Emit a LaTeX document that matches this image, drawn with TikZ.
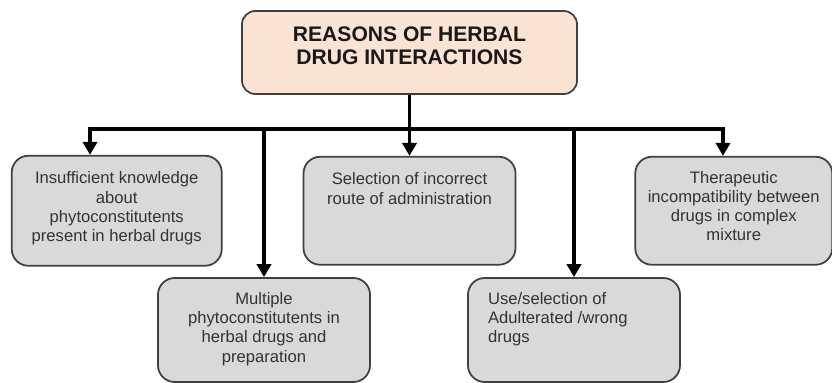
\documentclass[tikz,border=0pt]{standalone}
\usepackage{fontspec}
\setmainfont{Liberation Sans}
\usepackage{xcolor}
\usepackage{tikz}
\usetikzlibrary{positioning,arrows.meta}
\definecolor{boxgrey}{HTML}{D9D9D9}
\definecolor{boxpeach}{HTML}{FBE3D4}
\definecolor{edgegrey}{HTML}{404040}
\definecolor{textgrey}{HTML}{333333}
\tikzstyle{reason}=[rectangle, draw=edgegrey, line width=1.5pt, rounded corners=0.5cm, fill=boxgrey,
        text=textgrey, inner xsep=0.2cm, inner ysep=0pt, font=\fontsize{14.2}{16.4}\selectfont]
\tikzstyle{title}=[reason, fill=boxpeach, rounded corners=0.4cm, text=black!90,
        font=\bfseries\fontsize{18}{19.2}\selectfont]
\tikzstyle{myarrow}=[-{Triangle[width=12pt,length=11pt]}, line width=3.2pt]
\newcommand{\boxtext}[4][0.48cm]{\parbox[c][#2][t]{#3}{\vspace*{#1}#4}}

\begin{document}
\begin{tikzpicture}
    \useasboundingbox (0,0) rectangle (24.96,-11.49);
    \node (Top) [title] at (12.285,-1.575)
        {\boxtext{2.49cm}{9.65cm}{\centering REASONS OF HERBAL\\DRUG INTERACTIONS}};
    \node (Selection) [reason, below=1.83cm of Top]
        {\boxtext{3.24cm}{5.96cm}{\centering Selection of incorrect\\route of administration}};
    \node (Insufficient) [reason, left=2.4cm of Selection]
        {\boxtext{3.3cm}{5.9cm}{\centering Insufficient knowledge\\about\\phytoconstitutents\\present in herbal drugs}};
    \node (Therapeutic) [reason, right=3.54cm of Selection]
        {\boxtext[0.43cm]{3.24cm}{5.51cm}{\centering Therapeutic\\incompatibility between\\drugs in complex\\mixture}};
    \node (Multiple) [reason] at (7.92,-9.9)
        {\boxtext[0.43cm]{3.12cm}{5.96cm}{\centering Multiple\\phytoconstitutents in\\herbal drugs and\\preparation}};
    \node (Adulterated) [reason] at (17.22,-9.9)
        {\boxtext[0.43cm]{3.12cm}{5.96cm}{\raggedright\leftskip=0.4cm Use/selection of\\Adulterated /wrong\\drugs}};
    % bus line under the title
    \coordinate (busL) at (2.7,-3.87);
    \coordinate (busR) at (21.69,-3.87);
    \draw[myarrow] (Top.south) -- (Top.south |- busL) -| (busL |- Insufficient.north);
    \draw[myarrow] (Top.south |- busL) -| (busR |- Therapeutic.north);
    \draw[myarrow] (Selection.north |- busL) -- (Selection.north);
    \draw[myarrow] (Multiple.north |- busL) -- (Multiple.north);
    \draw[myarrow] (Adulterated.north |- busL) -- (Adulterated.north);
\end{tikzpicture}
\end{document}
